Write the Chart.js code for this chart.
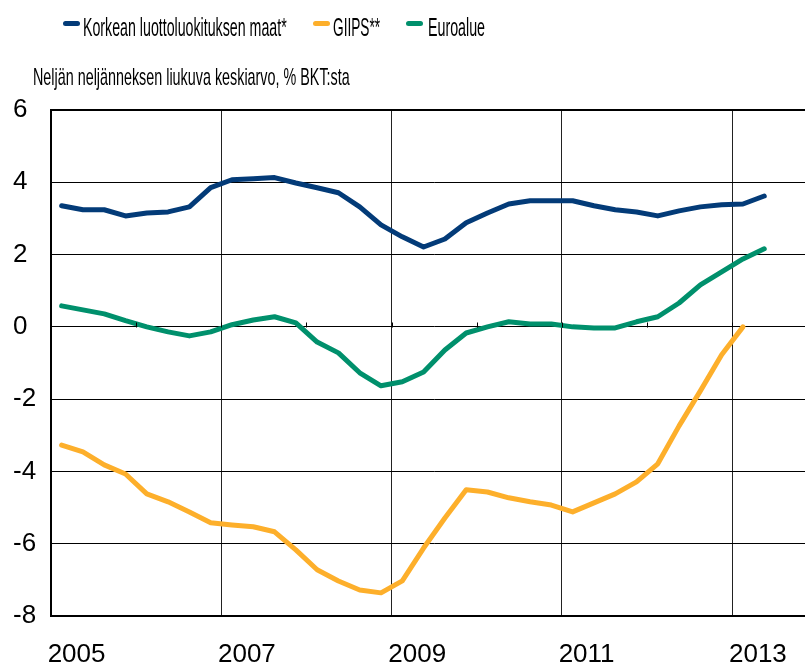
<!DOCTYPE html>
<html>
<head>
<meta charset="utf-8">
<script src="https://cdn.jsdelivr.net/npm/chart.js@4"></script>
<style>
  html, body { margin: 0; padding: 0; background: #fff; overflow: hidden; width: 805px; height: 669px; }
  #wrap { position: absolute; left: 0; top: 0; width: 830px; height: 669px; }
  .txt { position: absolute; font-family: "Liberation Sans", Arial, sans-serif; color: #000;
         line-height: 1; white-space: nowrap; transform-origin: left top; }
  .mark { position: absolute; width: 17px; height: 5px; border-radius: 3px; }
</style>
</head>
<body>
<div id="wrap"><canvas id="chart"></canvas></div>
<div id="legend"></div>
<div class="txt" id="subtitle" style="left:33px; top:65px; font-size:24px;" data-w="317">Neljän neljänneksen liukuva keskiarvo, % BKT:sta</div>
<script>
// quarters 2005Q1 .. 2013Q4
const quarters = [
  "2005Q1", "2005Q2", "2005Q3", "2005Q4", "2006Q1", "2006Q2", "2006Q3", "2006Q4",
  "2007Q1", "2007Q2", "2007Q3", "2007Q4", "2008Q1", "2008Q2", "2008Q3", "2008Q4",
  "2009Q1", "2009Q2", "2009Q3", "2009Q4", "2010Q1", "2010Q2", "2010Q3", "2010Q4",
  "2011Q1", "2011Q2", "2011Q3", "2011Q4", "2012Q1", "2012Q2", "2012Q3", "2012Q4",
  "2013Q1", "2013Q2", "2013Q3", "2013Q4"
];
const yearLabels = ["2005", "2007", "2009", "2011", "2013"];
const seriesNames = ["Korkean luottoluokituksen maat*", "GIIPS**", "Euroalue"];
const seriesColors = ["#033b78", "#fdaf2b", "#00906c"];

const highRated = [3.35, 3.24, 3.24, 3.07, 3.15, 3.18, 3.32, 3.85, 4.07, 4.1, 4.13, 3.98,
  3.85, 3.71, 3.32, 2.82, 2.49, 2.21, 2.43, 2.88, 3.15, 3.40, 3.49, 3.49,
  3.49, 3.35, 3.24, 3.18, 3.07, 3.21, 3.32, 3.38, 3.40, 3.62];
const giips = [-3.27, -3.46, -3.82, -4.07, -4.62, -4.84, -5.12, -5.42, -5.48, -5.53, -5.67, -6.17,
  -6.72, -7.03, -7.28, -7.36, -7.03, -6.12, -5.29, -4.51, -4.57, -4.73, -4.84, -4.93,
  -5.12, -4.87, -4.62, -4.29, -3.79, -2.74, -1.77, -0.77, 0.0];
const euroArea = [0.58, 0.47, 0.36, 0.17, 0.0, -0.14, -0.25, -0.14, 0.06, 0.19, 0.28, 0.11,
  -0.42, -0.72, -1.27, -1.63, -1.52, -1.25, -0.64, -0.17, 0.0, 0.14, 0.08, 0.08,
  0.0, -0.03, -0.03, 0.14, 0.28, 0.66, 1.16, 1.52, 1.88, 2.16];

const FONT = "'Liberation Sans', Arial, sans-serif";

// legend as html so the text can be squeezed like the original
const legendPos = [[63, 83, 204], [313, 333, 47], [406, 428, 57]];
const legendEl = document.getElementById("legend");
seriesNames.forEach((name, i) => {
  const m = document.createElement("div");
  m.className = "mark";
  m.style.left = legendPos[i][0] + "px";
  m.style.top = "21px";
  m.style.background = seriesColors[i];
  legendEl.appendChild(m);
  const t = document.createElement("div");
  t.className = "txt";
  t.style.left = legendPos[i][1] + "px";
  t.style.top = "15px";
  t.style.fontSize = "25px";
  t.dataset.w = legendPos[i][2];
  t.textContent = name;
  legendEl.appendChild(t);
});
// squeeze texts to the widths seen in the original
document.querySelectorAll(".txt").forEach((el) => {
  const w = el.offsetWidth;
  el.style.transform = "scaleX(" + (Number(el.dataset.w) / w).toFixed(3) + ")";
});

// small year ticks on the zero line
const zeroTicks = {
  id: "zeroTicks",
  afterDatasetsDraw(chart) {
    const { ctx, scales: { x, y } } = chart;
    const y0 = Math.round(y.getPixelForValue(0)) + 0.5;
    const half = (x.getPixelForValue(1) - x.getPixelForValue(0)) / 2;
    ctx.save();
    ctx.strokeStyle = "#000";
    ctx.lineWidth = 1;
    quarters.forEach((q, i) => {
      if (i > 0 && i % 4 === 0) {
        const px = Math.round(x.getPixelForValue(i) - half) + 0.5;
        ctx.beginPath();
        ctx.moveTo(px, y0);
        ctx.lineTo(px, y0 - 5);
        ctx.stroke();
      }
    });
    ctx.restore();
  }
};

const ctx = document.getElementById("chart").getContext("2d");
new Chart(ctx, {
  type: "line",
  data: {
    labels: quarters,
    datasets: [
      { label: seriesNames[0], data: highRated, borderColor: seriesColors[0] },
      { label: seriesNames[1], data: giips, borderColor: seriesColors[1] },
      { label: seriesNames[2], data: euroArea, borderColor: seriesColors[2] },
    ],
  },
  options: {
    responsive: true,
    maintainAspectRatio: false,
    animation: false,
    layout: { padding: { left: 13, top: 110, right: 12, bottom: 0 } },
    elements: {
      point: { radius: 0 },
      line: { borderWidth: 5, tension: 0, borderJoinStyle: "round", borderCapStyle: "round", fill: false },
    },
    plugins: {
      legend: { display: false },
      tooltip: { enabled: false },
    },
    scales: {
      x: {
        type: "category",
        offset: true,
        afterFit: (s) => { s.height = 53; },
        grid: {
          offset: true,
          drawTicks: false,
          color: (c) => (c.index > 0 && c.index % 8 === 0 ? "#222" : "rgba(0,0,0,0)"),
          lineWidth: 1,
        },
        border: { display: true, color: "#000", width: 2 },
        ticks: {
          autoSkip: false,
          maxRotation: 0,
          align: "start",
          labelOffset: -14,
          padding: 23,
          color: "#000",
          font: { family: FONT, size: 26 },
          callback: function (v, i) {
            const q = quarters[i];
            return q.endsWith("Q1") && yearLabels.includes(q.slice(0, 4)) ? q.slice(0, 4) : "";
          },
        },
      },
      y: {
        min: -8,
        max: 6,
        afterFit: (s) => { s.width = 38; },
        grid: {
          drawTicks: false,
          color: "#000",
          lineWidth: (c) => (c.tick && (c.tick.value === 6 || c.tick.value === -8) ? 2 : 1),
        },
        border: { display: true, color: "#000", width: 2 },
        ticks: {
          stepSize: 2,
          crossAlign: "far",
          padding: 0,
          color: "#000",
          font: { family: FONT, size: 26 },
        },
      },
    },
  },
  plugins: [zeroTicks],
});
</script>
</body>
</html>
